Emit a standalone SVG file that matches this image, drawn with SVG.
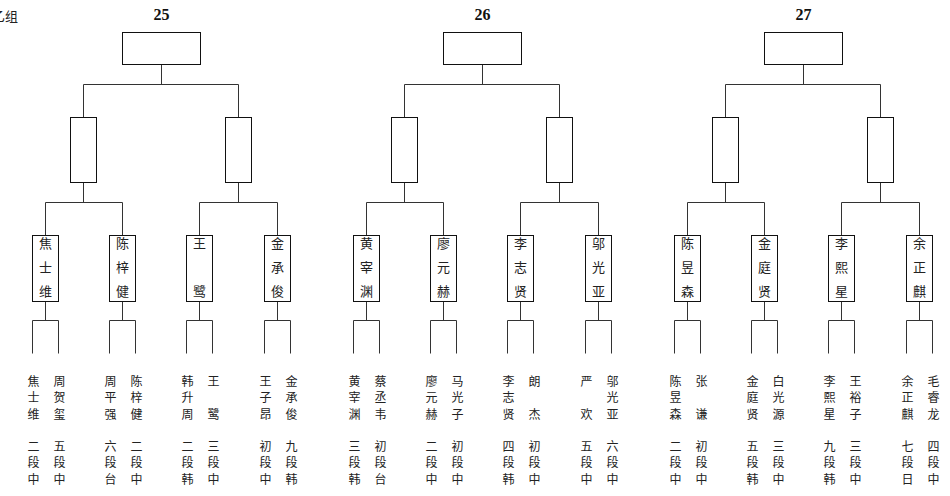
<svg xmlns="http://www.w3.org/2000/svg" width="950" height="496" viewBox="0 0 950 496">
<style>
.bx{fill:#fff;stroke:#111;stroke-width:1}
.cn{fill:none;stroke:#333;stroke-width:1}
.t{font-family:"Noto Sans CJK SC","Noto Sans CJK JP",sans-serif;fill:#222;text-anchor:middle}
.nm{font-size:13px}
.pl{font-size:12px}
.rd{font-family:"Liberation Serif",serif;font-weight:bold;font-size:16px;fill:#111;text-anchor:middle}
</style>
<rect width="950" height="496" fill="#fff"/>
<text class="t" x="18" y="21" style="font-size:13px;text-anchor:end">乙组</text>
<text class="rd" x="161.5" y="20">25</text>
<text class="rd" x="482.5" y="20">26</text>
<text class="rd" x="803.5" y="20">27</text>
<g id="connectors" class="cn">
<path d="M161.5 64.5V84.5M83.5 117.5V84.5H238.5V117.5M83.5 182.5V202.5M45.5 235.5V202.5H122.5V235.5M238.5 182.5V202.5M199.5 235.5V202.5H277.5V235.5M45.5 301.5V320.5M32.5 353.5V320.5H58.5V353.5M122.5 301.5V320.5M109.5 353.5V320.5H135.5V353.5M199.5 301.5V320.5M186.5 353.5V320.5H212.5V353.5M277.5 301.5V320.5M264.5 353.5V320.5H290.5V353.5"/>
<path d="M482.5 64.5V84.5M404.5 117.5V84.5H559.5V117.5M404.5 182.5V202.5M366.5 235.5V202.5H443.5V235.5M559.5 182.5V202.5M520.5 235.5V202.5H598.5V235.5M366.5 301.5V320.5M353.5 353.5V320.5H379.5V353.5M443.5 301.5V320.5M430.5 353.5V320.5H456.5V353.5M520.5 301.5V320.5M507.5 353.5V320.5H533.5V353.5M598.5 301.5V320.5M585.5 353.5V320.5H611.5V353.5"/>
<path d="M803.5 64.5V84.5M725.5 117.5V84.5H880.5V117.5M725.5 182.5V202.5M687.5 235.5V202.5H764.5V235.5M880.5 182.5V202.5M841.5 235.5V202.5H919.5V235.5M687.5 301.5V320.5M674.5 353.5V320.5H700.5V353.5M764.5 301.5V320.5M751.5 353.5V320.5H777.5V353.5M841.5 301.5V320.5M828.5 353.5V320.5H854.5V353.5M919.5 301.5V320.5M906.5 353.5V320.5H932.5V353.5"/>
</g>
<g id="final-25"><rect class="bx" x="122.5" y="32.5" width="78" height="32"/></g>
<g id="final-26"><rect class="bx" x="443.5" y="32.5" width="78" height="32"/></g>
<g id="final-27"><rect class="bx" x="764.5" y="32.5" width="78" height="32"/></g>
<g id="semi-25a"><rect class="bx" x="70.5" y="117.5" width="26" height="65"/></g>
<g id="semi-25b"><rect class="bx" x="225.5" y="117.5" width="26" height="65"/></g>
<g id="semi-26a"><rect class="bx" x="391.5" y="117.5" width="26" height="65"/></g>
<g id="semi-26b"><rect class="bx" x="546.5" y="117.5" width="26" height="65"/></g>
<g id="semi-27a"><rect class="bx" x="712.5" y="117.5" width="26" height="65"/></g>
<g id="semi-27b"><rect class="bx" x="867.5" y="117.5" width="26" height="65"/></g>
<g id="q-25-1"><rect class="bx" x="32.5" y="235.5" width="26" height="66"/><text class="t nm"><tspan x="45.5" y="248">焦</tspan><tspan x="45.5" y="272">士</tspan><tspan x="45.5" y="296">维</tspan></text></g>
<g id="q-25-2"><rect class="bx" x="109.5" y="235.5" width="26" height="66"/><text class="t nm"><tspan x="122.5" y="248">陈</tspan><tspan x="122.5" y="272">梓</tspan><tspan x="122.5" y="296">健</tspan></text></g>
<g id="q-25-3"><rect class="bx" x="186.5" y="235.5" width="26" height="66"/><text class="t nm"><tspan x="199.5" y="248">王</tspan><tspan x="199.5" y="296">鹭</tspan></text></g>
<g id="q-25-4"><rect class="bx" x="264.5" y="235.5" width="26" height="66"/><text class="t nm"><tspan x="277.5" y="248">金</tspan><tspan x="277.5" y="272">承</tspan><tspan x="277.5" y="296">俊</tspan></text></g>
<g id="q-26-1"><rect class="bx" x="353.5" y="235.5" width="26" height="66"/><text class="t nm"><tspan x="366.5" y="248">黄</tspan><tspan x="366.5" y="272">宰</tspan><tspan x="366.5" y="296">渊</tspan></text></g>
<g id="q-26-2"><rect class="bx" x="430.5" y="235.5" width="26" height="66"/><text class="t nm"><tspan x="443.5" y="248">廖</tspan><tspan x="443.5" y="272">元</tspan><tspan x="443.5" y="296">赫</tspan></text></g>
<g id="q-26-3"><rect class="bx" x="507.5" y="235.5" width="26" height="66"/><text class="t nm"><tspan x="520.5" y="248">李</tspan><tspan x="520.5" y="272">志</tspan><tspan x="520.5" y="296">贤</tspan></text></g>
<g id="q-26-4"><rect class="bx" x="585.5" y="235.5" width="26" height="66"/><text class="t nm"><tspan x="598.5" y="248">邬</tspan><tspan x="598.5" y="272">光</tspan><tspan x="598.5" y="296">亚</tspan></text></g>
<g id="q-27-1"><rect class="bx" x="674.5" y="235.5" width="26" height="66"/><text class="t nm"><tspan x="687.5" y="248">陈</tspan><tspan x="687.5" y="272">昱</tspan><tspan x="687.5" y="296">森</tspan></text></g>
<g id="q-27-2"><rect class="bx" x="751.5" y="235.5" width="26" height="66"/><text class="t nm"><tspan x="764.5" y="248">金</tspan><tspan x="764.5" y="272">庭</tspan><tspan x="764.5" y="296">贤</tspan></text></g>
<g id="q-27-3"><rect class="bx" x="828.5" y="235.5" width="26" height="66"/><text class="t nm"><tspan x="841.5" y="248">李</tspan><tspan x="841.5" y="272">熙</tspan><tspan x="841.5" y="296">星</tspan></text></g>
<g id="q-27-4"><rect class="bx" x="906.5" y="235.5" width="26" height="66"/><text class="t nm"><tspan x="919.5" y="248">余</tspan><tspan x="919.5" y="272">正</tspan><tspan x="919.5" y="296">麒</tspan></text></g>
<g id="p-25-1a"><text class="t pl"><tspan x="33.5" y="385.5">焦</tspan><tspan x="33.5" y="402">士</tspan><tspan x="33.5" y="418.5">维</tspan><tspan x="33.5" y="450.5">二</tspan><tspan x="33.5" y="467">段</tspan><tspan x="33.5" y="483.5">中</tspan></text></g>
<g id="p-25-1b"><text class="t pl"><tspan x="59.5" y="385.5">周</tspan><tspan x="59.5" y="402">贺</tspan><tspan x="59.5" y="418.5">玺</tspan><tspan x="59.5" y="450.5">五</tspan><tspan x="59.5" y="467">段</tspan><tspan x="59.5" y="483.5">中</tspan></text></g>
<g id="p-25-2a"><text class="t pl"><tspan x="110.5" y="385.5">周</tspan><tspan x="110.5" y="402">平</tspan><tspan x="110.5" y="418.5">强</tspan><tspan x="110.5" y="450.5">六</tspan><tspan x="110.5" y="467">段</tspan><tspan x="110.5" y="483.5">台</tspan></text></g>
<g id="p-25-2b"><text class="t pl"><tspan x="136.5" y="385.5">陈</tspan><tspan x="136.5" y="402">梓</tspan><tspan x="136.5" y="418.5">健</tspan><tspan x="136.5" y="450.5">二</tspan><tspan x="136.5" y="467">段</tspan><tspan x="136.5" y="483.5">中</tspan></text></g>
<g id="p-25-3a"><text class="t pl"><tspan x="187.5" y="385.5">韩</tspan><tspan x="187.5" y="402">升</tspan><tspan x="187.5" y="418.5">周</tspan><tspan x="187.5" y="450.5">二</tspan><tspan x="187.5" y="467">段</tspan><tspan x="187.5" y="483.5">韩</tspan></text></g>
<g id="p-25-3b"><text class="t pl"><tspan x="213.5" y="385.5">王</tspan><tspan x="213.5" y="418.5">鹭</tspan><tspan x="213.5" y="450.5">三</tspan><tspan x="213.5" y="467">段</tspan><tspan x="213.5" y="483.5">中</tspan></text></g>
<g id="p-25-4a"><text class="t pl"><tspan x="265.5" y="385.5">王</tspan><tspan x="265.5" y="402">子</tspan><tspan x="265.5" y="418.5">昂</tspan><tspan x="265.5" y="450.5">初</tspan><tspan x="265.5" y="467">段</tspan><tspan x="265.5" y="483.5">中</tspan></text></g>
<g id="p-25-4b"><text class="t pl"><tspan x="291.5" y="385.5">金</tspan><tspan x="291.5" y="402">承</tspan><tspan x="291.5" y="418.5">俊</tspan><tspan x="291.5" y="450.5">九</tspan><tspan x="291.5" y="467">段</tspan><tspan x="291.5" y="483.5">韩</tspan></text></g>
<g id="p-26-1a"><text class="t pl"><tspan x="354.5" y="385.5">黄</tspan><tspan x="354.5" y="402">宰</tspan><tspan x="354.5" y="418.5">渊</tspan><tspan x="354.5" y="450.5">三</tspan><tspan x="354.5" y="467">段</tspan><tspan x="354.5" y="483.5">韩</tspan></text></g>
<g id="p-26-1b"><text class="t pl"><tspan x="380.5" y="385.5">蔡</tspan><tspan x="380.5" y="402">丞</tspan><tspan x="380.5" y="418.5">韦</tspan><tspan x="380.5" y="450.5">初</tspan><tspan x="380.5" y="467">段</tspan><tspan x="380.5" y="483.5">台</tspan></text></g>
<g id="p-26-2a"><text class="t pl"><tspan x="431.5" y="385.5">廖</tspan><tspan x="431.5" y="402">元</tspan><tspan x="431.5" y="418.5">赫</tspan><tspan x="431.5" y="450.5">二</tspan><tspan x="431.5" y="467">段</tspan><tspan x="431.5" y="483.5">中</tspan></text></g>
<g id="p-26-2b"><text class="t pl"><tspan x="457.5" y="385.5">马</tspan><tspan x="457.5" y="402">光</tspan><tspan x="457.5" y="418.5">子</tspan><tspan x="457.5" y="450.5">初</tspan><tspan x="457.5" y="467">段</tspan><tspan x="457.5" y="483.5">中</tspan></text></g>
<g id="p-26-3a"><text class="t pl"><tspan x="508.5" y="385.5">李</tspan><tspan x="508.5" y="402">志</tspan><tspan x="508.5" y="418.5">贤</tspan><tspan x="508.5" y="450.5">四</tspan><tspan x="508.5" y="467">段</tspan><tspan x="508.5" y="483.5">韩</tspan></text></g>
<g id="p-26-3b"><text class="t pl"><tspan x="534.5" y="385.5">朗</tspan><tspan x="534.5" y="418.5">杰</tspan><tspan x="534.5" y="450.5">初</tspan><tspan x="534.5" y="467">段</tspan><tspan x="534.5" y="483.5">中</tspan></text></g>
<g id="p-26-4a"><text class="t pl"><tspan x="586.5" y="385.5">严</tspan><tspan x="586.5" y="418.5">欢</tspan><tspan x="586.5" y="450.5">五</tspan><tspan x="586.5" y="467">段</tspan><tspan x="586.5" y="483.5">中</tspan></text></g>
<g id="p-26-4b"><text class="t pl"><tspan x="612.5" y="385.5">邬</tspan><tspan x="612.5" y="402">光</tspan><tspan x="612.5" y="418.5">亚</tspan><tspan x="612.5" y="450.5">六</tspan><tspan x="612.5" y="467">段</tspan><tspan x="612.5" y="483.5">中</tspan></text></g>
<g id="p-27-1a"><text class="t pl"><tspan x="675.5" y="385.5">陈</tspan><tspan x="675.5" y="402">昱</tspan><tspan x="675.5" y="418.5">森</tspan><tspan x="675.5" y="450.5">二</tspan><tspan x="675.5" y="467">段</tspan><tspan x="675.5" y="483.5">中</tspan></text></g>
<g id="p-27-1b"><text class="t pl"><tspan x="701.5" y="385.5">张</tspan><tspan x="701.5" y="418.5">谦</tspan><tspan x="701.5" y="450.5">初</tspan><tspan x="701.5" y="467">段</tspan><tspan x="701.5" y="483.5">中</tspan></text></g>
<g id="p-27-2a"><text class="t pl"><tspan x="752.5" y="385.5">金</tspan><tspan x="752.5" y="402">庭</tspan><tspan x="752.5" y="418.5">贤</tspan><tspan x="752.5" y="450.5">五</tspan><tspan x="752.5" y="467">段</tspan><tspan x="752.5" y="483.5">韩</tspan></text></g>
<g id="p-27-2b"><text class="t pl"><tspan x="778.5" y="385.5">白</tspan><tspan x="778.5" y="402">光</tspan><tspan x="778.5" y="418.5">源</tspan><tspan x="778.5" y="450.5">三</tspan><tspan x="778.5" y="467">段</tspan><tspan x="778.5" y="483.5">中</tspan></text></g>
<g id="p-27-3a"><text class="t pl"><tspan x="829.5" y="385.5">李</tspan><tspan x="829.5" y="402">熙</tspan><tspan x="829.5" y="418.5">星</tspan><tspan x="829.5" y="450.5">九</tspan><tspan x="829.5" y="467">段</tspan><tspan x="829.5" y="483.5">韩</tspan></text></g>
<g id="p-27-3b"><text class="t pl"><tspan x="855.5" y="385.5">王</tspan><tspan x="855.5" y="402">裕</tspan><tspan x="855.5" y="418.5">子</tspan><tspan x="855.5" y="450.5">三</tspan><tspan x="855.5" y="467">段</tspan><tspan x="855.5" y="483.5">中</tspan></text></g>
<g id="p-27-4a"><text class="t pl"><tspan x="907.5" y="385.5">余</tspan><tspan x="907.5" y="402">正</tspan><tspan x="907.5" y="418.5">麒</tspan><tspan x="907.5" y="450.5">七</tspan><tspan x="907.5" y="467">段</tspan><tspan x="907.5" y="483.5">日</tspan></text></g>
<g id="p-27-4b"><text class="t pl"><tspan x="933.5" y="385.5">毛</tspan><tspan x="933.5" y="402">睿</tspan><tspan x="933.5" y="418.5">龙</tspan><tspan x="933.5" y="450.5">四</tspan><tspan x="933.5" y="467">段</tspan><tspan x="933.5" y="483.5">中</tspan></text></g>
</svg>
